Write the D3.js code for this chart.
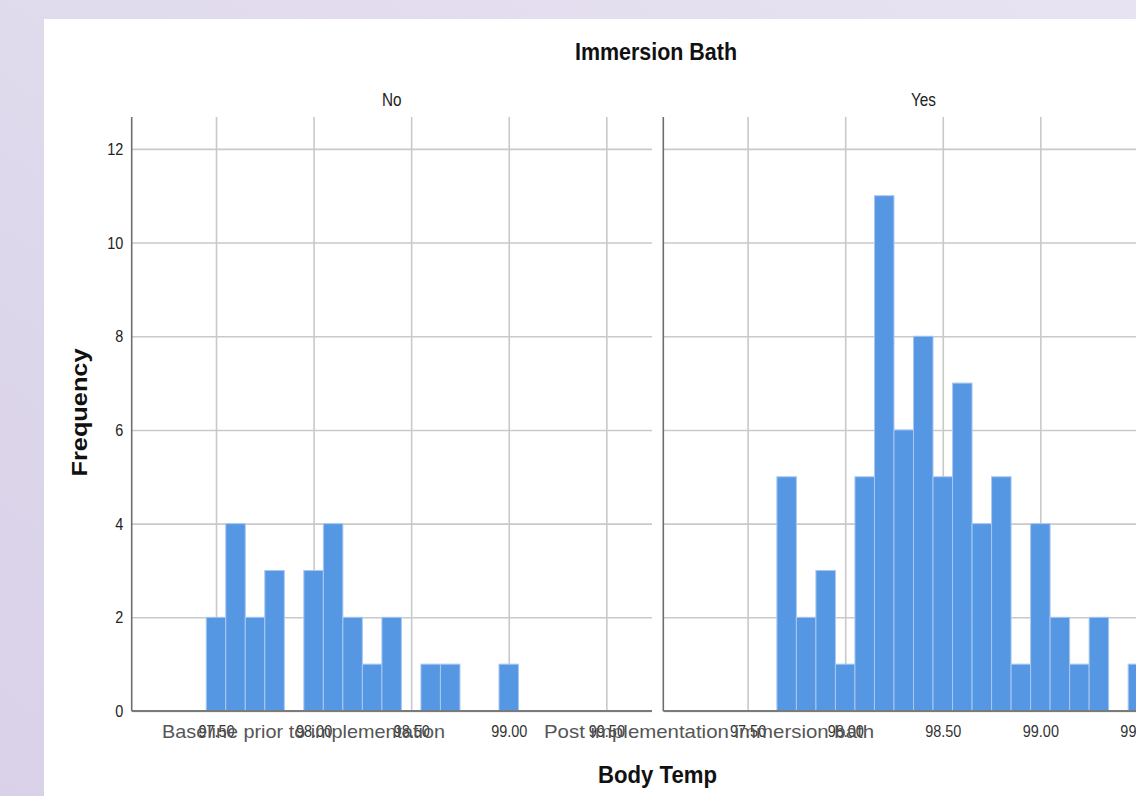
<!DOCTYPE html>
<html>
<head>
<meta charset="utf-8">
<script src="https://cdn.jsdelivr.net/npm/d3@7"></script>
<style>
  body { margin: 0; background: #e2ddef; }
  svg { display: block; font-family: "Liberation Sans", Arial, sans-serif; }
</style>
</head>
<body>
<svg id="chart" width="1136" height="796"></svg>
<script>
/*******************************************************************************************/
// Data

var groupNames = ['No', 'Yes'];
var categoryNames = ['Baseline prior to implementation', 'Post implementation immersion bath'];

var noTemps  = [97.5, 97.6, 97.7, 97.8, 98.0, 98.1, 98.2, 98.3, 98.4, 98.6, 98.7, 99.0];
var noCounts = [2, 4, 2, 3, 3, 4, 2, 1, 2, 1, 1, 1];

var yesTemps  = [97.7, 97.8, 97.9, 98.0, 98.1, 98.2, 98.3, 98.4, 98.5, 98.6, 98.7, 98.8, 98.9, 99.0, 99.1, 99.2, 99.3, 99.5];
var yesCounts = [5, 2, 3, 1, 5, 11, 6, 8, 5, 7, 4, 5, 1, 4, 2, 1, 2, 1];

var binWidth = 0.1;
var xTicks = [97.5, 98.0, 98.5, 99.0, 99.5];
var yTicks = [0, 2, 4, 6, 8, 10, 12];

/*******************************************************************************************/
// Layout

var svg = d3.select('#chart');
var plotTop = 117, plotBottom = 711, panelW = 520.3;
var panelX = [131.7, 663.3];
var condense = 'scale(0.85,1)';

var xScale = d3.scaleLinear().domain([97.068, 99.734]).range([0, panelW]);
var yScale = d3.scaleLinear().domain([0, 12.68]).range([plotBottom, plotTop]);

// background
var defs = svg.append('defs');
var grad = defs.append('linearGradient').attr('id', 'bg').attr('x1', 1).attr('y1', 0).attr('x2', 0).attr('y2', 1);
grad.append('stop').attr('offset', '0%').attr('stop-color', '#e8e3f2');
grad.append('stop').attr('offset', '100%').attr('stop-color', '#d8d1e8');
svg.append('rect').attr('width', 1136).attr('height', 796).attr('fill', 'url(#bg)');
svg.append('rect').attr('x', 44).attr('y', 19).attr('width', 1136 - 44).attr('height', 796 - 19).attr('fill', '#fff');

/*******************************************************************************************/
// Panels

var panels = [
  { name: groupNames[0], temps: noTemps, counts: noCounts },
  { name: groupNames[1], temps: yesTemps, counts: yesCounts }
];

panels.forEach(function(p, i){
  var g = svg.append('g').attr('transform', 'translate(' + panelX[i] + ',0)');

  // horizontal gridlines + y labels
  var yAxis = g.append('g').attr('class', 'yaxis')
    .call(d3.axisLeft(yScale).tickValues(yTicks).tickSize(-panelW).tickPadding(10)
      .tickFormat(i == 0 ? d3.format('d') : function(){ return ''; }));
  yAxis.select('.domain').remove();
  yAxis.selectAll('line').attr('stroke', '#c9c9c9').attr('stroke-width', 1.6);
  yAxis.selectAll('text').attr('font-size', 17).attr('fill', '#222').attr('transform', condense);

  // vertical gridlines + x labels
  var xAxis = g.append('g').attr('transform', 'translate(0,' + plotBottom + ')')
    .call(d3.axisBottom(xScale).tickValues(xTicks).tickSize(-(plotBottom - plotTop)).tickPadding(14)
      .tickFormat(d3.format('.2f')));
  xAxis.select('.domain').remove();
  xAxis.selectAll('line').attr('stroke', '#c9c9c9').attr('stroke-width', 1.6);
  xAxis.selectAll('text').attr('font-size', 17).attr('fill', '#333').attr('transform', condense);

  // bars
  var bw = xScale(binWidth) - xScale(0);
  g.selectAll('rect.bar').data(p.temps).enter().append('rect')
    .attr('class', 'bar')
    .attr('x', function(d){ return xScale(d - binWidth / 2); })
    .attr('y', function(d, j){ return yScale(p.counts[j]); })
    .attr('width', bw)
    .attr('height', function(d, j){ return yScale(0) - yScale(p.counts[j]); })
    .attr('fill', '#5697e4')
    .attr('stroke', '#a9c8f0')
    .attr('stroke-width', 1);

  // axis lines
  g.append('line').attr('x1', 0).attr('x2', 0).attr('y1', plotTop).attr('y2', plotBottom)
    .attr('stroke', '#6e6e6e').attr('stroke-width', 1.6);
  g.append('line').attr('x1', 0).attr('x2', panelW).attr('y1', plotBottom).attr('y2', plotBottom)
    .attr('stroke', '#7a7a7a').attr('stroke-width', 2);

  // panel header
  g.append('text').attr('transform', 'translate(' + (panelW / 2) + ',106) ' + condense)
    .attr('text-anchor', 'middle').attr('font-size', 18).attr('fill', '#222').text(p.name);
});

/*******************************************************************************************/
// Titles and category labels

svg.append('text').attr('x', 303.5).attr('y', 738).attr('text-anchor', 'middle')
  .attr('font-size', 19).attr('fill', '#555')
  .attr('textLength', 283).attr('lengthAdjust', 'spacingAndGlyphs').text(categoryNames[0]);
svg.append('text').attr('x', 709).attr('y', 738).attr('text-anchor', 'middle')
  .attr('font-size', 19).attr('fill', '#555')
  .attr('textLength', 330).attr('lengthAdjust', 'spacingAndGlyphs').text(categoryNames[1]);

svg.append('text').attr('x', 656).attr('y', 60).attr('text-anchor', 'middle')
  .attr('font-size', 24).attr('font-weight', 'bold').attr('fill', '#111')
  .attr('textLength', 162).attr('lengthAdjust', 'spacingAndGlyphs').text('Immersion Bath');

svg.append('text').attr('x', 657.5).attr('y', 783).attr('text-anchor', 'middle')
  .attr('font-size', 24).attr('font-weight', 'bold').attr('fill', '#111')
  .attr('textLength', 119).attr('lengthAdjust', 'spacingAndGlyphs').text('Body Temp');

svg.append('text').attr('transform', 'translate(87,412.5) rotate(-90)').attr('text-anchor', 'middle')
  .attr('font-size', 22).attr('font-weight', 'bold').attr('fill', '#111')
  .attr('textLength', 128).attr('lengthAdjust', 'spacingAndGlyphs').text('Frequency');
</script>
</body>
</html>
